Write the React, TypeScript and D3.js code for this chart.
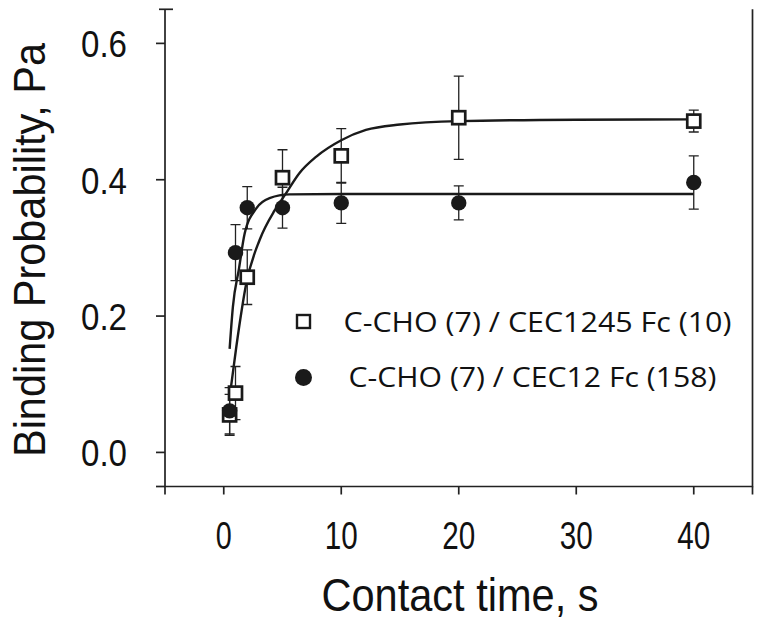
import React, { useEffect, useRef } from "react";
import * as d3 from "d3";

// contact time (s) of each measurement
const times = [0.5, 1, 2, 5, 10, 20, 40];

// C-CHO (7) / CEC1245 Fc (10) - open squares
const squareValues = [0.055, 0.087, 0.257, 0.403, 0.435, 0.491, 0.486];
const squareErrors = [0.03, 0.039, 0.04, 0.041, 0.04, 0.061, 0.016];

// C-CHO (7) / CEC12 Fc (158) - filled circles
const circleValues = [0.061, 0.293, 0.359, 0.359, 0.366, 0.366, 0.396];
const circleErrors = [0.034, 0.041, 0.031, 0.03, 0.03, 0.025, 0.039];

// fitted curves
const squareFitX = [0.6, 1.07, 1.92, 3.06, 4.33, 5.18, 6.45, 7.88, 10, 12.1, 15, 20, 30, 40];
const squareFitY = [0.094, 0.155, 0.248, 0.312, 0.355, 0.377, 0.41, 0.434, 0.458, 0.473, 0.481, 0.486, 0.488, 0.4885];
const circleFitX = [0.5, 0.78, 1.3, 1.78, 2.77, 3.9, 5.6, 10, 20, 40];
const circleFitY = [0.152, 0.214, 0.27, 0.321, 0.358, 0.373, 0.3785, 0.379, 0.379, 0.379];

const xTicks = [0, 10, 20, 30, 40];
const yTicks = [0, 0.2, 0.4, 0.6];
const legendLabels = ["C-CHO (7) / CEC1245 Fc (10)", "C-CHO (7) / CEC12 Fc (158)"];

const W = 762;
const H = 627;

const App = () => {
  const svgRef = useRef<SVGSVGElement>(null);

  useEffect(() => {
    const svg = d3.select(svgRef.current);
    svg.selectAll("*").remove();

    const x = d3.scaleLinear().domain([-5, 45]).range([165, 752.5]);
    const y = d3.scaleLinear().domain([-0.05, 0.65]).range([486.5, 9.3]);
    const [x0, x1] = x.range();
    const [yb, yt] = y.range();

    const axisFont = "'Liberation Sans', Arial, sans-serif";
    const g = svg.append("g");

    // axis lines (left, bottom, right; no top)
    g.append("path")
      .attr("d", `M${x0},${yt}V${yb}H${x1}V${yt}`)
      .attr("fill", "none")
      .attr("stroke", "#222")
      .attr("stroke-width", 1.7);

    // y ticks; the top end tick crosses the spine
    const yTickAll = [y.domain()[0], ...yTicks];
    g.selectAll("line.yt")
      .data(yTickAll)
      .join("line")
      .attr("class", "yt")
      .attr("x1", x0 - 9)
      .attr("x2", x0)
      .attr("y1", d => y(d))
      .attr("y2", d => y(d))
      .attr("stroke", "#222")
      .attr("stroke-width", 1.7);
    g.append("line")
      .attr("x1", x0 - 6)
      .attr("x2", x0 + 8)
      .attr("y1", yt)
      .attr("y2", yt)
      .attr("stroke", "#222")
      .attr("stroke-width", 1.7);

    // x ticks, including the end ticks
    const xTickAll = [x.domain()[0], ...xTicks, x.domain()[1]];
    g.selectAll("line.xt")
      .data(xTickAll)
      .join("line")
      .attr("class", "xt")
      .attr("x1", d => x(d))
      .attr("x2", d => x(d))
      .attr("y1", yb)
      .attr("y2", yb + 8)
      .attr("stroke", "#222")
      .attr("stroke-width", 1.7);

    // tick labels
    g.selectAll("text.yl")
      .data(yTicks)
      .join("text")
      .attr("class", "yl")
      .attr("x", 127)
      .attr("y", d => y(d) + 14)
      .attr("text-anchor", "end")
      .attr("font-family", axisFont)
      .attr("font-size", 36)
      .attr("textLength", 46)
      .attr("lengthAdjust", "spacingAndGlyphs")
      .attr("fill", "#111")
      .text(d => d3.format(".1f")(d));

    g.selectAll("text.xl")
      .data(xTicks)
      .join("text")
      .attr("class", "xl")
      .attr("x", d => x(d))
      .attr("y", 549)
      .attr("text-anchor", "middle")
      .attr("font-family", axisFont)
      .attr("font-size", 38)
      .attr("textLength", d => (d === 0 ? 16 : 33))
      .attr("lengthAdjust", "spacingAndGlyphs")
      .attr("fill", "#111")
      .text(d => String(d));

    // axis titles
    g.append("text")
      .attr("x", 460)
      .attr("y", 611)
      .attr("text-anchor", "middle")
      .attr("font-family", axisFont)
      .attr("font-size", 47)
      .attr("textLength", 277)
      .attr("lengthAdjust", "spacingAndGlyphs")
      .attr("fill", "#111")
      .text("Contact time, s");

    g.append("text")
      .attr("transform", "translate(45,250) rotate(-90)")
      .attr("text-anchor", "middle")
      .attr("font-family", axisFont)
      .attr("font-size", 44)
      .attr("textLength", 414)
      .attr("lengthAdjust", "spacingAndGlyphs")
      .attr("fill", "#111")
      .text("Binding Probability, Pa");

    // error bars
    const drawErrors = (vals: number[], errs: number[], cls: string) => {
      const eg = g.append("g").attr("stroke", "#222").attr("stroke-width", 1.3).attr("fill", "none");
      eg.selectAll(`path.${cls}`)
        .data(times.map((t, i) => ({ t, v: vals[i], e: errs[i] })))
        .join("path")
        .attr("class", cls)
        .attr("d", d => {
          const cx = x(d.t);
          const top = y(d.v + d.e);
          const bot = y(d.v - d.e);
          return `M${cx},${top}V${bot}M${cx - 5},${top}H${cx + 5}M${cx - 5},${bot}H${cx + 5}`;
        });
    };
    drawErrors(squareValues, squareErrors, "esq");
    drawErrors(circleValues, circleErrors, "eci");

    // fitted curves
    const line = d3.line<[number, number]>()
      .x(d => x(d[0]))
      .y(d => y(d[1]))
      .curve(d3.curveMonotoneX);
    g.append("path")
      .attr("d", line(squareFitX.map((t, i) => [t, squareFitY[i]] as [number, number])))
      .attr("fill", "none")
      .attr("stroke", "#1a1a1a")
      .attr("stroke-width", 2.4);
    g.append("path")
      .attr("d", line(circleFitX.map((t, i) => [t, circleFitY[i]] as [number, number])))
      .attr("fill", "none")
      .attr("stroke", "#1a1a1a")
      .attr("stroke-width", 2.4);

    // markers
    g.selectAll("rect.sq")
      .data(times.map((t, i) => ({ t, v: squareValues[i] })))
      .join("rect")
      .attr("class", "sq")
      .attr("x", d => x(d.t) - 6.5)
      .attr("y", d => y(d.v) - 6.5)
      .attr("width", 13)
      .attr("height", 13)
      .attr("fill", "#fff")
      .attr("stroke", "#1a1a1a")
      .attr("stroke-width", 2.7);

    g.selectAll("circle.ci")
      .data(times.map((t, i) => ({ t, v: circleValues[i] })))
      .join("circle")
      .attr("class", "ci")
      .attr("cx", d => x(d.t))
      .attr("cy", d => y(d.v))
      .attr("r", 7.7)
      .attr("fill", "#1a1a1a");

    // legend
    const lg = g.append("g");
    lg.append("rect")
      .attr("x", 297)
      .attr("y", 315)
      .attr("width", 13)
      .attr("height", 13)
      .attr("fill", "#fff")
      .attr("stroke", "#1a1a1a")
      .attr("stroke-width", 2.4);
    lg.append("circle")
      .attr("cx", 303.5)
      .attr("cy", 377.5)
      .attr("r", 8.5)
      .attr("fill", "#1a1a1a");
    const legendX = [343.5, 348.5];
    const legendY = [331.5, 386.5];
    const legendW = [388, 368];
    lg.selectAll("text")
      .data(legendLabels)
      .join("text")
      .attr("x", (d, i) => legendX[i])
      .attr("y", (d, i) => legendY[i])
      .attr("font-family", "'Open Sans', 'Noto Sans', sans-serif")
      .attr("font-size", 26.5)
      .attr("textLength", (d, i) => legendW[i])
      .attr("lengthAdjust", "spacingAndGlyphs")
      .attr("fill", "#111")
      .text(d => d);
  }, []);

  return (
    <svg
      ref={svgRef}
      width={W}
      height={H}
      style={{ position: "absolute", left: 0, top: 0, background: "#fff" }}
    />
  );
};

export default App;
